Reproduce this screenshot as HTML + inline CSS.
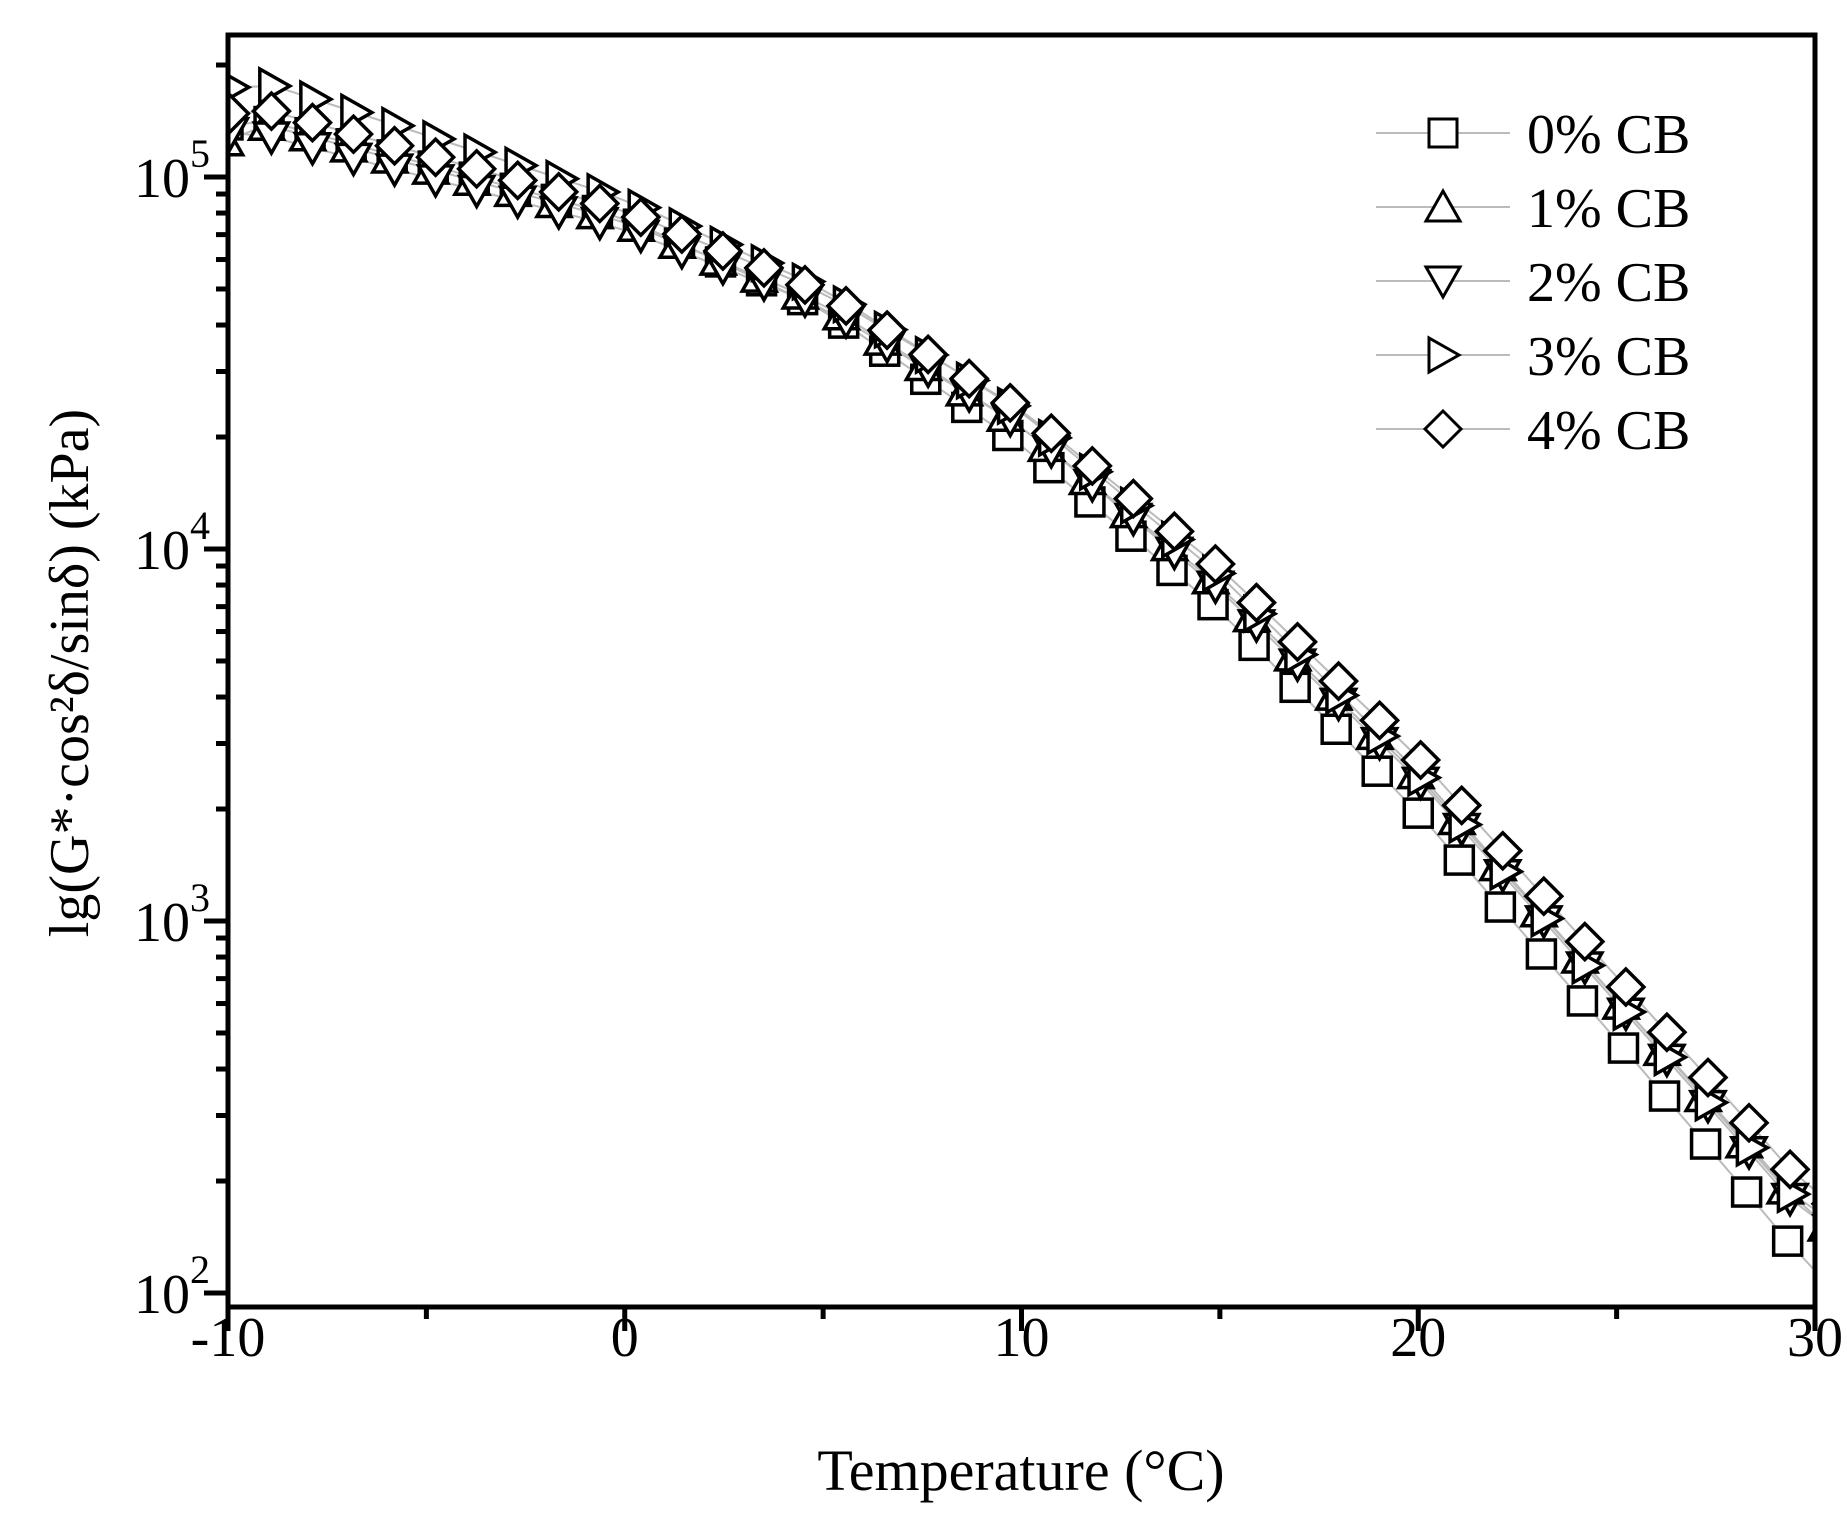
<!DOCTYPE html>
<html><head><meta charset="utf-8"><style>
body{margin:0;background:#fff}
svg{display:block}
text{font-family:"Liberation Serif","DejaVu Serif",serif;fill:#000}
</style></head><body>
<svg id="s" width="1847" height="1535" xmlns="http://www.w3.org/2000/svg"></svg>
<script>
const s=document.getElementById('s');
const L=228,R=1815,T=35,B=1307;
const X=t=>L+(t+10)*(R-L)/40;
const Y=v=>177+(5-v)*372;
let h='';
h+='<defs><clipPath id="c"><rect x="'+L+'" y="'+T+'" width="'+(R-L)+'" height="'+(B-T)+'"/></clipPath></defs>';
const D=[
 [[-10,5.14],[-9,5.15],[0,4.89],[5,4.645],[10,4.28],[15,3.835],[20,3.29],[25,2.68],[29.25,2.15],[30,2.02]],
 [[-10,5.1],[-9,5.14],[0,4.88],[5,4.66],[10,4.33],[15,3.9],[20,3.39],[25,2.79],[29.25,2.28],[30,2.18]],
 [[-10,5.12],[-9,5.11],[0,4.86],[5,4.65],[10,4.33],[15,3.89],[20,3.38],[25,2.78],[29.25,2.27],[30,2.17]],
 [[-10,5.24],[-9,5.25],[0,4.94],[5,4.7],[10,4.37],[15,3.93],[20,3.4],[25,2.79],[29.25,2.29],[30,2.19]],
 [[-10,5.17],[-9,5.18],[0,4.91],[5,4.69],[10,4.375],[15,3.95],[20,3.44],[25,2.85],[29.25,2.35],[30,2.24]]];
function f(d,t){for(let i=0;i<d.length-1;i++){if(t<=d[i+1][0]){const a=d[i],b=d[i+1];return a[1]+(b[1]-a[1])*(t-a[0])/(b[0]-a[0]);}}return d[d.length-1][1];}
function mk(k,x,y){const r=14;
 if(k==0)return '<rect x="'+(x-r)+'" y="'+(y-r)+'" width="'+2*r+'" height="'+2*r+'"/>';
 if(k==1)return '<polygon points="'+x+','+(y-r-2)+' '+(x+r+3)+','+(y+r)+' '+(x-r-3)+','+(y+r)+'"/>';
 if(k==2)return '<polygon points="'+x+','+(y+r+2)+' '+(x+r+3)+','+(y-r)+' '+(x-r-3)+','+(y-r)+'"/>';
 if(k==3)return '<polygon points="'+(x+r+2)+','+y+' '+(x-r)+','+(y-r-3)+' '+(x-r)+','+(y+r+3)+'"/>';
 return '<polygon points="'+x+','+(y-r-4)+' '+(x+r+4)+','+y+' '+x+','+(y+r+4)+' '+(x-r-4)+','+y+'"/>';}
const ts=[];for(let k=0;k<40;k++)ts.push(-10+k*1.0345);
h+='<g clip-path="url(#c)">';
for(let k=0;k<5;k++){
 const offs=[0,-0.06,0.06,0.12,0.06][k];
 let p='';ts.forEach(t=>{p+=X(t+offs)+','+Y(f(D[k],t+offs))+' ';});
 h+='<polyline points="'+p+'" fill="none" stroke="#bbb" stroke-width="2"/>';
}
for(let k=0;k<5;k++){
 const offs=[0,-0.06,0.06,0.12,0.06][k];
 h+='<g fill="#fff" stroke="#000" stroke-width="3.5">';
 ts.forEach(t=>{h+=mk(k,X(t+offs),Y(f(D[k],t+offs)));});
 h+='</g>';
}
h+='</g>';
h+='<rect x="'+L+'" y="'+T+'" width="'+(R-L)+'" height="'+(B-T)+'" fill="none" stroke="#000" stroke-width="5"/>';
for(let e=2;e<=5;e++){for(let m=1;m<10;m++){const v=e+Math.log10(m);if(v>5.38)continue;const y=Y(v);
 const len=m==1?24:12;h+='<line x1="'+(L-len)+'" y1="'+y+'" x2="'+L+'" y2="'+y+'" stroke="#000" stroke-width="5"/>';}
 h+='<text x="210" y="'+(Y(e)+20)+'" font-size="56" text-anchor="end">10<tspan font-size="40" dy="-30">'+e+'</tspan></text>';}
for(let t=-10;t<=30;t+=5){const x=X(t);const len=t%10==0?24:12;
 h+='<line x1="'+x+'" y1="'+B+'" x2="'+x+'" y2="'+(B+len)+'" stroke="#000" stroke-width="5"/>';
 if(t%10==0)h+='<text x="'+x+'" y="1356" font-size="56" text-anchor="middle">'+t+'</text>';}
h+='<text x="1021" y="1490" font-size="58" text-anchor="middle">Temperature (°C)</text>';
h+='<text transform="translate(88,673) rotate(-90)" font-size="56" text-anchor="middle">lg(G*·cos²δ/sinδ) (kPa)</text>';
const lab=['0% CB','1% CB','2% CB','3% CB','4% CB'];
for(let k=0;k<5;k++){const y=133+k*74;
 h+='<line x1="1376" y1="'+y+'" x2="1510" y2="'+y+'" stroke="#bbb" stroke-width="2"/>';
 h+='<g fill="#fff" stroke="#000" stroke-width="3">'+mk(k,1443,y)+'</g>';
 h+='<text x="1527" y="'+(y+20)+'" font-size="56">'+lab[k]+'</text>';}
s.innerHTML=h;
</script>
</body></html>
